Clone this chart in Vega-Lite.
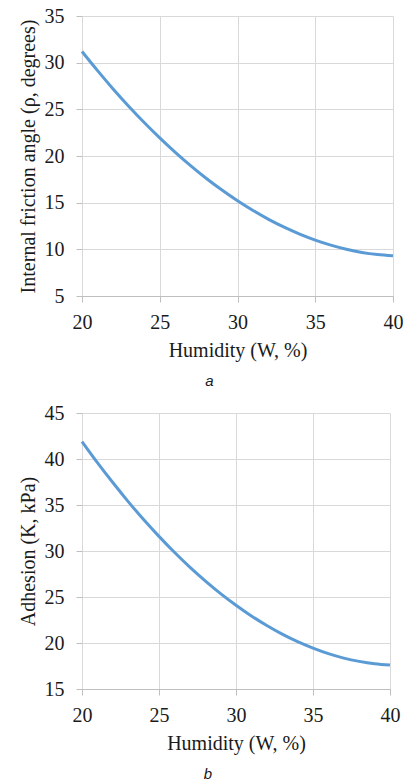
{
  "$schema": "https://vega.github.io/schema/vega-lite/v6.json",
  "padding": {"left": 17, "top": 6, "right": 4, "bottom": 0},
  "background": "white",
  "datasets": {
    "friction": [
      {"W": 20, "v": 31.2}, {"W": 21, "v": 29.15}, {"W": 22, "v": 27.19}, {"W": 23, "v": 25.34},
      {"W": 24, "v": 23.59}, {"W": 25, "v": 21.94}, {"W": 26, "v": 20.39}, {"W": 27, "v": 18.94},
      {"W": 28, "v": 17.59}, {"W": 29, "v": 16.35}, {"W": 30, "v": 15.2}, {"W": 31, "v": 14.16},
      {"W": 32, "v": 13.21}, {"W": 33, "v": 12.37}, {"W": 34, "v": 11.63}, {"W": 35, "v": 10.99},
      {"W": 36, "v": 10.45}, {"W": 37, "v": 10.01}, {"W": 38, "v": 9.67}, {"W": 39, "v": 9.44},
      {"W": 40, "v": 9.3}
    ],
    "adhesion": [
      {"W": 20, "v": 41.9}, {"W": 21, "v": 39.61}, {"W": 22, "v": 37.44}, {"W": 23, "v": 35.37},
      {"W": 24, "v": 33.42}, {"W": 25, "v": 31.59}, {"W": 26, "v": 29.86}, {"W": 27, "v": 28.25},
      {"W": 28, "v": 26.76}, {"W": 29, "v": 25.37}, {"W": 30, "v": 24.1}, {"W": 31, "v": 22.94},
      {"W": 32, "v": 21.9}, {"W": 33, "v": 20.96}, {"W": 34, "v": 20.14}, {"W": 35, "v": 19.44},
      {"W": 36, "v": 18.84}, {"W": 37, "v": 18.36}, {"W": 38, "v": 18.0}, {"W": 39, "v": 17.74},
      {"W": 40, "v": 17.6}
    ]
  },
  "config": {
    "view": {"stroke": null},
    "font": "Liberation Serif",
    "axis": {
      "labelFont": "Liberation Serif",
      "labelFontSize": 20,
      "labelColor": "#1a1a1a",
      "titleFont": "Liberation Serif",
      "titleFontSize": 20,
      "titleFontWeight": "normal",
      "titleColor": "#1a1a1a",
      "gridColor": "#d9d9d9",
      "gridWidth": 1,
      "domainColor": "#bfbfbf",
      "tickColor": "#bfbfbf",
      "tickSize": 6
    },
    "axisY": {"domain": false, "labelFont": "Liberation Serif", "labelPadding": 12, "titlePadding": 6},
    "axisX": {"labelFont": "Liberation Serif", "labelPadding": 10, "titlePadding": 8, "labelFlush": false},
    "title": {"font": "Liberation Sans", "fontStyle": "italic", "fontWeight": "normal", "fontSize": 15, "color": "#1a1a1a"}
  },
  "spacing": 14,
  "vconcat": [
    {
      "width": 311,
      "height": 280,
      "data": {"name": "friction"},
      "title": {"text": "a", "orient": "bottom", "anchor": "middle", "dx": -28, "offset": 14},
      "mark": {"type": "line", "color": "#5b9bd5", "strokeWidth": 3, "interpolate": "monotone"},
      "encoding": {
        "x": {"field": "W", "type": "quantitative", "scale": {"domain": [20, 40], "nice": false},
              "axis": {"values": [20, 25, 30, 35, 40], "title": "Humidity (W, %)", "labelFont": "Liberation Serif"}},
        "y": {"field": "v", "type": "quantitative", "scale": {"domain": [5, 35], "nice": false, "zero": false},
              "axis": {"values": [5, 10, 15, 20, 25, 30, 35], "title": "Internal friction angle (ρ, degrees)", "labelFont": "Liberation Serif"}}
      }
    },
    {
      "width": 308,
      "height": 276,
      "data": {"name": "adhesion"},
      "title": {"text": "b", "orient": "bottom", "anchor": "middle", "dx": -28, "offset": 14},
      "mark": {"type": "line", "color": "#5b9bd5", "strokeWidth": 3, "interpolate": "monotone"},
      "encoding": {
        "x": {"field": "W", "type": "quantitative", "scale": {"domain": [20, 40], "nice": false},
              "axis": {"values": [20, 25, 30, 35, 40], "title": "Humidity (W, %)", "labelFont": "Liberation Serif"}},
        "y": {"field": "v", "type": "quantitative", "scale": {"domain": [15, 45], "nice": false, "zero": false},
              "axis": {"values": [15, 20, 25, 30, 35, 40, 45], "title": "Adhesion (K, kPa)", "labelFont": "Liberation Serif"}}
      }
    }
  ]
}
